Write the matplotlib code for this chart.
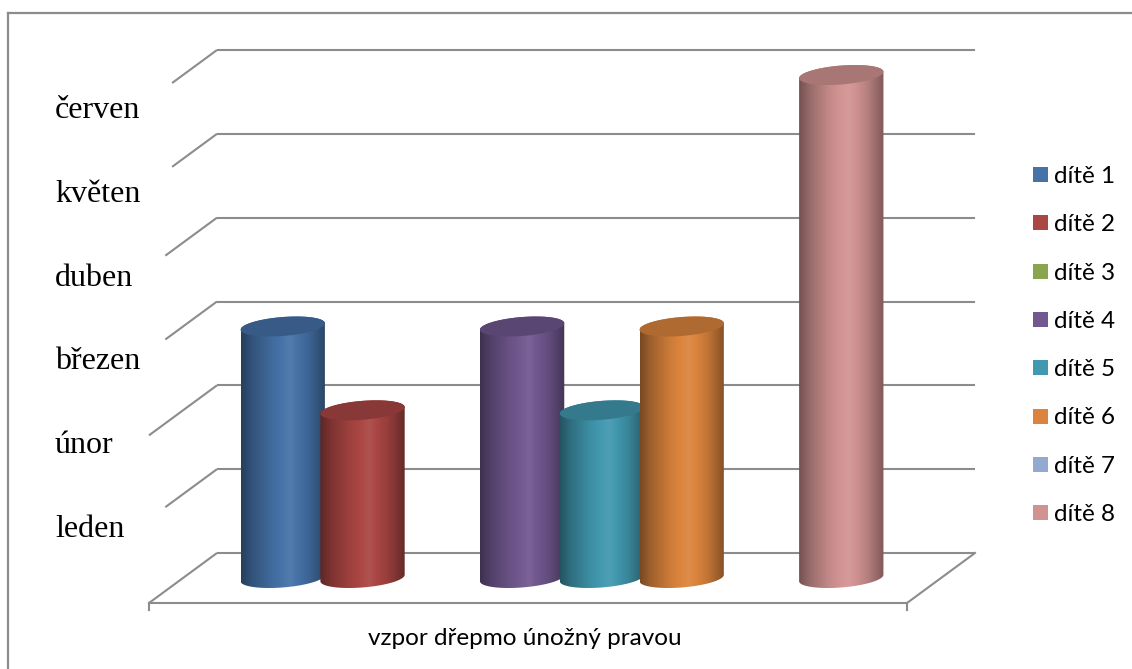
import numpy as np
import matplotlib
matplotlib.use("Agg")
import matplotlib.pyplot as plt
from matplotlib import transforms
from matplotlib.colors import to_rgb
from matplotlib.patches import PathPatch, Polygon, Rectangle
from matplotlib.path import Path

# data
series = ["dítě 1", "dítě 2", "dítě 3", "dítě 4", "dítě 5", "dítě 6", "dítě 7", "dítě 8"]
values = [3, 2, 0, 3, 2, 3, 0, 6]
months = ["leden", "únor", "březen", "duben", "květen", "červen"]
category = "vzpor dřepmo únožný pravou"
colors = ["#4572A7", "#AA4643", "#89A54E", "#71588F",
          "#4198AF", "#DB843D", "#93A9CF", "#D19392"]

W, H = 1132, 669
GRID = "#8c8c8c"
WALL_L, WALL_R, WALL_TOP, WALL_BOT = 217, 975, 50, 553   # back wall, px
DEPTH = np.array([-68.0, -50.0])      # floor depth in pixels (front minus back)
SIDE_FRAC = [1.0, 0.76, 1.0, 0.76, 0.76, 0.66, 0.66]
GAP = 1.5                              # gap width, in bar widths
ELL_B = 10.0                           # half height of the cylinder caps, px


def shade(c, f):
    rgb = np.array(to_rgb(c))
    if f < 1:
        return rgb * f
    return rgb + (1 - rgb) * (f - 1)


fig = plt.figure(figsize=(W / 100, H / 100), dpi=100)
fig.patch.set_facecolor("white")

# outer frame (only the top and left edges fall inside the image)
fig.add_artist(plt.Line2D([8 / W, 1], [1 - 13 / H, 1 - 13 / H],
                          transform=fig.transFigure, color=GRID, lw=1.6))
fig.add_artist(plt.Line2D([8 / W, 8 / W], [0, 1 - 13 / H],
                          transform=fig.transFigure, color=GRID, lw=1.6))

# one axes over the whole figure; x = category span [0, 1] along the back
# wall, y = value scale with 0 on the floor line of the back wall
nlev = len(months)
x_px = WALL_R - WALL_L
y_px = (WALL_BOT - WALL_TOP) / nlev
ax = fig.add_axes([0, 0, 1, 1])
ax.set_xlim(-WALL_L / x_px, (W - WALL_L) / x_px)
ax.set_ylim(-(H - WALL_BOT) / y_px, nlev + WALL_TOP / y_px)
ax.set_autoscale_on(False)
ax.axis("off")

to_disp = ax.transData.transform
to_data = ax.transData.inverted().transform


def shifted(pts, frac):
    return to_data(to_disp(np.atleast_2d(pts)) + frac * DEPTH)


# gridlines on the back wall and the left side wall
for lev in range(nlev + 1):
    ax.plot([0, 1], [lev, lev], color=GRID, lw=1.5, solid_capstyle="butt",
            zorder=1)
    end = shifted([0, lev], SIDE_FRAC[lev])[0]
    ax.plot([0, end[0]], [lev, end[1]], color=GRID, lw=1.5,
            solid_capstyle="butt", zorder=1)

# floor: front edge, right edge and the two end ticks
f0, f1 = shifted([[0, 0], [1, 0]], 1.0)
ax.plot([f0[0], f1[0], 1], [f0[1], f1[1], 0], color=GRID, lw=1.5, zorder=1)
for p in (f0, f1):
    tick_end = to_data(to_disp(p) + np.array([0, -7]))
    ax.plot([p[0], tick_end[0]], [p[1], tick_end[1]], color=GRID, lw=1.5,
            zorder=1)

# cylinders, one per series, standing half way into the floor
slot = 1.0 / (len(series) + GAP)
slot_px = to_disp((slot, 0))[0] - to_disp((0, 0))[0]
r = slot_px / 2
b = ELL_B
a = b * abs(DEPTH[0] / DEPTH[1])
R = np.hypot(r, a)
t0 = np.arctan2(a, r)

stops_u = [0.0, 0.12, 0.35, 0.58, 0.8, 0.93, 1.0]
stops_f = [0.55, 0.72, 0.93, 1.07, 0.88, 0.7, 0.6]
uu = np.linspace(0, 1, 256)
ff = np.interp(uu, stops_u, stops_f)


def ell(t):
    return np.column_stack([r * np.cos(t) + a * np.sin(t), b * np.sin(t)])


for i, (val, col) in enumerate(zip(values, colors)):
    if val <= 0:
        continue
    cx = (GAP / 2 + i + 0.5) * slot
    base = to_disp((cx, 0)) + 0.5 * DEPTH
    top = to_disp((cx, val)) + 0.5 * DEPTH

    bot_arc = base + ell(np.linspace(t0 + np.pi, t0 + 2 * np.pi, 60))
    top_arc = top + ell(np.linspace(t0, t0 + np.pi, 60))
    body = to_data(np.vstack([bot_arc, top_arc, bot_arc[:1]]))
    clip = PathPatch(Path(body, closed=True), transform=ax.transData)

    grad = np.array([shade(col, f) for f in ff])[None, :, :]
    lo = to_data(base + np.array([-R, -b - 2]))
    hi = to_data(top + np.array([R, b + 2]))
    im = ax.imshow(grad, extent=(lo[0], hi[0], lo[1], hi[1]), origin="lower",
                   aspect="auto", interpolation="bilinear", zorder=3 + i * 0.1)
    im.set_clip_path(clip)

    cap = to_data(top + ell(np.linspace(0, 2 * np.pi, 120)))
    ax.add_patch(Polygon(cap, closed=True, facecolor=shade(col, 0.8),
                         edgecolor="none", zorder=3.05 + i * 0.1))

ax.set_xlim(-WALL_L / x_px, (W - WALL_L) / x_px)
ax.set_ylim(-(H - WALL_BOT) / y_px, nlev + WALL_TOP / y_px)

# month labels between the value levels
lab_tr = transforms.blended_transform_factory(
    fig.transFigure,
    transforms.offset_copy(ax.transData, fig=fig, x=0, y=-26, units="dots"))
for k, name in enumerate(months):
    ax.text(55 / W, k + 0.5, name, transform=lab_tr, ha="left", va="baseline",
            fontsize=23, family="Liberation Serif", color="black")

# category label
fig.text(525 / W, 24 / H, category, ha="center", va="baseline",
         fontsize=17.5, family="Lato", color="black")

# legend
for i, (name, col) in enumerate(zip(series, colors)):
    yc = 174.5 + 48.3 * i
    fig.add_artist(Rectangle((1033 / W, 1 - (yc + 7.5) / H), 15 / W, 15 / H,
                             transform=fig.transFigure, facecolor=col,
                             edgecolor="none"))
    fig.text(1054 / W, 1 - (yc + 8.5) / H, name, ha="left", va="baseline",
             fontsize=17.5, family="Lato", color="black")

fig.savefig("out.png", dpi=100)
